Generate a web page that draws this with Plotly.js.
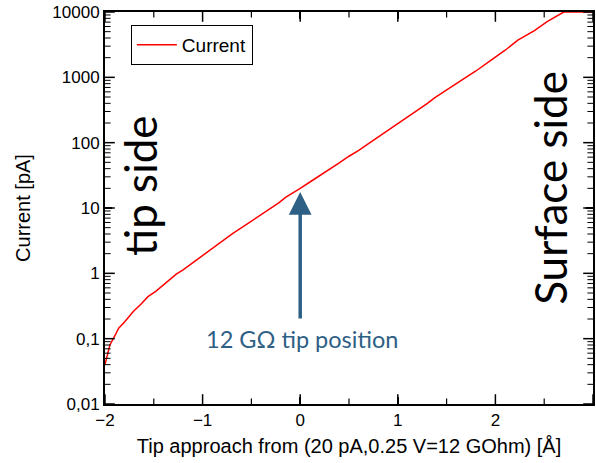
<!DOCTYPE html>
<html>
<head>
<meta charset="utf-8">
<script src="https://cdn.plot.ly/plotly-3.0.1.min.js"></script>
<style>html,body{margin:0;padding:0;background:#fff;}#chart{width:596px;height:463px;}</style>
</head>
<body>
<div id="chart"></div>
<script>
const tipApproach = [-2.0, -1.98, -1.95, -1.90, -1.86, -1.80, -1.71, -1.63, -1.56, -1.48, -1.40, -1.33, -1.27, -1.20, -1.11, -1.04, -0.975, -0.90, -0.82, -0.75, -0.69, -0.60, -0.52, -0.45, -0.38, -0.30, -0.22, -0.15, -0.07, 0.0, 0.1, 0.2, 0.3, 0.4, 0.5, 0.6, 0.7, 0.8, 0.9, 1.02, 1.1, 1.2, 1.3, 1.38, 1.5, 1.58, 1.67, 1.8, 1.96, 2.1, 2.23, 2.4, 2.53, 2.62, 2.70, 2.8, 2.9, 3.0];
const currentPA = [0.04, 0.055, 0.08, 0.11, 0.145, 0.18, 0.26, 0.34, 0.44, 0.53, 0.66, 0.80, 0.97, 1.13, 1.42, 1.70, 2.0, 2.45, 2.95, 3.5, 4.1, 5.0, 6.0, 7.1, 8.3, 10.0, 12.0, 14.5, 17.5, 20, 25, 31, 39, 49, 62, 76, 97, 122, 155, 205, 250, 310, 395, 490, 640, 760, 930, 1250, 1850, 2600, 3700, 5200, 7100, 8500, 10000, 10000, 10000, 10000];
const yTickVals = [0.01, 0.1, 1, 10, 100, 1000, 10000];
const yTickText = ["0,01", "0,1", "1", "10", "100", "1000", "10000"];
const xTickVals = [-2, -1, 0, 1, 2, 3];
const xMinorTickVals = [-1.5, -0.5, 0.5, 1.5, 2.5];
const seriesName = "Current";
const arrowTarget = {x: 0, y: 17.6};
const xRange = [-2, 3];
const yRange = [0.01, 10000];

// minor log ticks: 2..9 within each decade
const yMinorTickVals = [];
for (let d = 0; d < yTickVals.length - 1; d++) {
  for (let m = 2; m <= 9; m++) yMinorTickVals.push(yTickVals[d] * m);
}

const tickFont = {family: "Liberation Sans, Arial, sans-serif", size: 17, color: "#000"};
const titleFont = {family: "Liberation Sans, Arial, sans-serif", size: 20, color: "#000"};
const bigFont = {family: "Lato, Open Sans, sans-serif", size: 44, color: "#000"};
const blue = "#2E6085";

// inside, mirrored tick marks: half-clipped line markers sitting on the axis frame
function tickTrace(vals, isX, len, w) {
  const xs = [], ys = [];
  vals.forEach(function (v) {
    (isX ? yRange : xRange).forEach(function (edge) {
      if (isX) { xs.push(v); ys.push(edge); } else { xs.push(edge); ys.push(v); }
    });
  });
  return {x: xs, y: ys, type: "scatter", mode: "markers", showlegend: false, hoverinfo: "skip", cliponaxis: true,
    marker: {symbol: isX ? "line-ns-open" : "line-ew-open", size: 2 * len, color: "#000",
      line: {color: "#000", width: w}}};
}

const data = [
  {x: tipApproach, y: currentPA, type: "scatter", mode: "lines", name: seriesName,
    line: {color: "#ff0000", width: 1.5}},
  tickTrace(xTickVals, true, 7, 1.5),
  tickTrace(xMinorTickVals, true, 4, 1.2),
  tickTrace(yTickVals, false, 7, 1.5),
  tickTrace(yMinorTickVals, false, 4, 1)
];

const layout = {
  width: 596, height: 463,
  margin: {l: 105, r: 3, t: 12, b: 59},
  paper_bgcolor: "#fff", plot_bgcolor: "#fff",
  showlegend: true,
  legend: {x: 0.053, y: 0.967, xanchor: "left", yanchor: "top",
    bordercolor: "#000", borderwidth: 1, bgcolor: "#fff",
    font: {family: "Liberation Sans, Arial, sans-serif", size: 19, color: "#000"}, itemwidth: 40},
  xaxis: {
    range: xRange, tickmode: "array", tickvals: xTickVals,
    ticks: "inside", ticklen: 7, tickwidth: 1.5, tickcolor: "#000",
    showline: true, linecolor: "#000", linewidth: 2, mirror: "ticks", showgrid: false, zeroline: false,
    tickfont: tickFont,
    title: {text: "Tip approach from (20 pA,0.25 V=12 GOhm) [Å]", font: titleFont, standoff: 10}
  },
  yaxis: {
    type: "log", range: yRange.map(Math.log10), tickmode: "array", tickvals: yTickVals, ticktext: yTickText,
    ticks: "inside", ticklen: 7, tickwidth: 1.5, tickcolor: "#000",
    showline: true, linecolor: "#000", linewidth: 2, mirror: "ticks", showgrid: false, zeroline: false,
    tickfont: tickFont,
    title: {text: "Current [pA]", font: titleFont, standoff: 16}
  },
  annotations: [
    {x: -1.64, y: 1.34, xref: "x", yref: "y", text: "tip side", textangle: -90, showarrow: false, font: bigFont},
    {x: 2.56, y: 1.31, xref: "x", yref: "y", text: "Surface side", textangle: -90, showarrow: false, font: bigFont},
    {x: 0.015, y: -1.0, xref: "x", yref: "y", text: "12 GΩ tip position", showarrow: false,
      font: {family: "Lato, Open Sans, sans-serif", size: 23.5, color: blue}},
    {x: arrowTarget.x, y: Math.log10(arrowTarget.y), xref: "x", yref: "y", text: "",
      showarrow: true, ax: 0, ay: 128, arrowcolor: blue, arrowwidth: 3.5, arrowhead: 2, arrowsize: 1.3, standoff: 0}
  ]
};

Plotly.newPlot("chart", data, layout, {displayModeBar: false, staticPlot: true});
</script>
</body>
</html>
